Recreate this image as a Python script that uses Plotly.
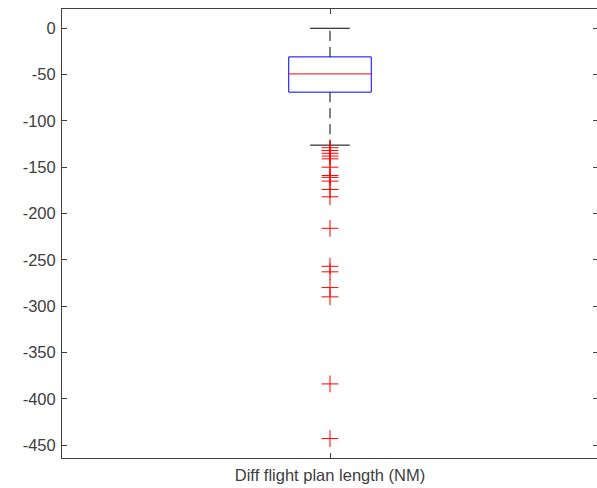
import plotly.graph_objects as go

category = ["Diff flight plan length (NM)"]
q1 = [-69.0]
median = [-49.3]
q3 = [-30.9]
lower_whisker = [-126.2]
upper_whisker = [0.0]
outliers = [-129, -132, -135, -138, -141, -150, -159, -161, -165, -174, -182,
             -216, -257, -263, -280, -290, -384, -443]
y_ticks = [0, -50, -100, -150, -200, -250, -300, -350, -400, -450]

pos = 1
box_half = 0.077
cap_half = 0.037

fig = go.Figure()
# whiskers (dashed)
fig.add_trace(go.Scatter(x=[pos, pos], y=[q3[0], upper_whisker[0]], mode="lines",
                         line=dict(color="black", width=1, dash="10px,6px"), hoverinfo="skip"))
fig.add_trace(go.Scatter(x=[pos, pos], y=[q1[0], lower_whisker[0]], mode="lines",
                         line=dict(color="black", width=1, dash="10px,6px"), hoverinfo="skip"))
# caps
for v in (upper_whisker[0], lower_whisker[0]):
    fig.add_trace(go.Scatter(x=[pos - cap_half, pos + cap_half], y=[v, v], mode="lines",
                             line=dict(color="black", width=1), hoverinfo="skip"))
# box
fig.add_trace(go.Scatter(x=[pos - box_half, pos + box_half, pos + box_half, pos - box_half, pos - box_half],
                         y=[q1[0], q1[0], q3[0], q3[0], q1[0]], mode="lines",
                         line=dict(color="blue", width=1), hoverinfo="skip"))
# median
fig.add_trace(go.Scatter(x=[pos - box_half, pos + box_half], y=[median[0], median[0]], mode="lines",
                         line=dict(color="red", width=1), hoverinfo="skip"))
# outliers
fig.add_trace(go.Scatter(x=[pos] * len(outliers), y=outliers, mode="markers",
                         marker=dict(symbol="cross-thin", size=12, line=dict(color="red", width=1)),
                         hoverinfo="skip"))

fig.update_layout(
    width=599, height=488,
    margin=dict(l=62, r=1, t=9, b=30),
    plot_bgcolor="white", paper_bgcolor="white",
    showlegend=False,
    font=dict(family="Liberation Sans, Arial, sans-serif", size=16.5, color="#404040"),
    xaxis=dict(range=[0.5, 1.5], tickvals=[pos], ticktext=category,
               showgrid=False, zeroline=False, showline=True, linecolor="#404040", linewidth=1,
               mirror="ticks", ticks="inside", ticklen=5, tickcolor="#404040",
               ticklabelstandoff=2, automargin=False),
    yaxis=dict(range=[-464, 20.8], tickvals=y_ticks, ticktext=[str(v) for v in y_ticks],
               showgrid=False, zeroline=False, showline=True, linecolor="#404040", linewidth=1,
               mirror="ticks", ticks="inside", ticklen=5, tickcolor="#404040",
               ticklabelstandoff=2, automargin=False),
)

fig.write_html("out.html", config={"displayModeBar": False},
               post_script="document.body.style.margin='0';document.body.style.overflow='hidden';")
